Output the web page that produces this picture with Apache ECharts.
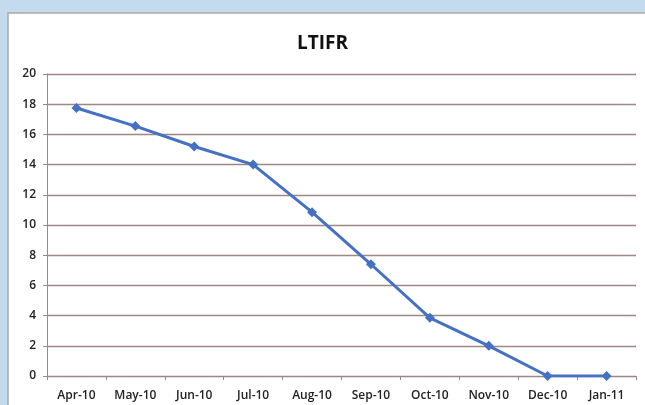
<!DOCTYPE html>
<html><head><meta charset="utf-8">
<script src="https://cdn.jsdelivr.net/npm/echarts@6/dist/echarts.min.js"></script>
<style>html,body{margin:0;padding:0;background:#c4daee;}#c{width:645px;height:405px;}</style>
</head><body><div id="c"></div>
<script>
const categories = ['Apr-10','May-10','Jun-10','Jul-10','Aug-10','Sep-10','Oct-10','Nov-10','Dec-10','Jan-11'];
const ltifr = [17.75, 16.55, 15.2, 14.0, 10.85, 7.4, 3.85, 2.0, 0, 0];
const yTicks = {min: 0, max: 20, interval: 2};

const chart = echarts.init(document.getElementById('c'), null, {renderer: 'canvas'});
chart.setOption({
  backgroundColor: '#c4daee',
  graphic: [
    {type: 'rect', z: -10, shape: {x: 8, y: 13, width: 660, height: 410},
     style: {fill: '#ffffff', stroke: '#a9a9a9', lineWidth: 1.5}}
  ],
  title: {
    text: 'LTIFR', left: 'center', top: 29,
    textStyle: {fontFamily: 'Open Sans', fontWeight: 'bold', fontSize: 19, color: '#111'}
  },
  grid: {left: 47, right: 9, top: 74, bottom: 29, containLabel: false},
  xAxis: {
    type: 'category', data: categories, boundaryGap: true,
    axisLine: {lineStyle: {color: '#9c8883', width: 1.2}},
    axisTick: {show: true, length: 4, lineStyle: {color: '#9c8883'}},
    axisLabel: {fontFamily: 'Open Sans', fontWeight: 600, fontSize: 12, color: '#222', margin: 14, interval: 0}
  },
  yAxis: {
    type: 'value', min: yTicks.min, max: yTicks.max, interval: yTicks.interval,
    axisLine: {show: true, lineStyle: {color: '#9c8883'}},
    axisTick: {show: true, length: 4, lineStyle: {color: '#9c8883'}},
    splitLine: {lineStyle: {color: '#9c8883', width: 1.3}},
    axisLabel: {fontFamily: 'Open Sans', fontWeight: 600, fontSize: 12, color: '#222', margin: 11}
  },
  series: [{
    type: 'line', data: ltifr, symbol: 'diamond', symbolSize: 10,
    lineStyle: {color: '#4471c2', width: 3},
    itemStyle: {color: '#4471c2'},
    animation: false
  }],
  animation: false
});
</script></body></html>
